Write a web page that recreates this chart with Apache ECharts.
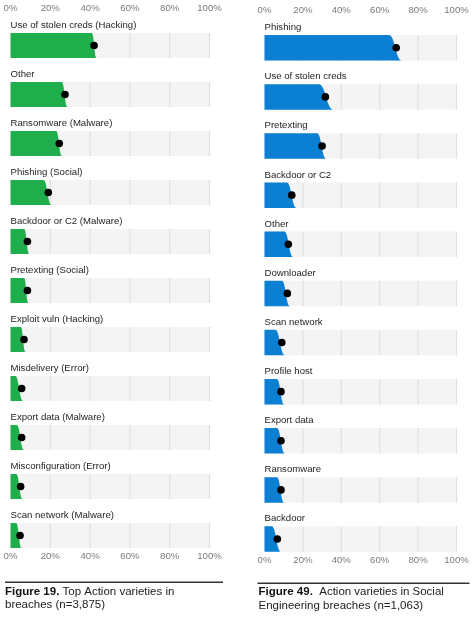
<!DOCTYPE html>
<html>
<head>
<meta charset="utf-8">
<script src="https://cdn.jsdelivr.net/npm/echarts@6/dist/echarts.min.js"></script>
<style>
  html, body { margin: 0; padding: 0; background: #fff; }
  #chart { width: 474px; height: 621px; }
</style>
</head>
<body>
<div id="chart"></div>
<script>
var leftCategories = ['Use of stolen creds (Hacking)', 'Other', 'Ransomware (Malware)', 'Phishing (Social)',
  'Backdoor or C2 (Malware)', 'Pretexting (Social)', 'Exploit vuln (Hacking)', 'Misdelivery (Error)',
  'Export data (Malware)', 'Misconfiguration (Error)', 'Scan network (Malware)'];
var leftValues = [42, 27.4, 24.5, 19, 8.5, 8.5, 6.8, 5.6, 5.6, 5.1, 4.8];
var leftLow = [40.8, 25.7, 22.9, 16.5, 6.8, 6.8, 5.1, 2.3, 3.1, 2.8, 2.8];
var leftHigh = [43.3, 28.7, 25.9, 20.7, 9.5, 9.0, 7.6, 6.4, 6.8, 6.1, 5.6];

var rightCategories = ['Phishing', 'Use of stolen creds', 'Pretexting', 'Backdoor or C2', 'Other',
  'Downloader', 'Scan network', 'Profile host', 'Export data', 'Ransomware', 'Backdoor'];
var rightValues = [68.6, 31.7, 30, 14.2, 12.4, 11.9, 9, 8.6, 8.6, 8.6, 6.7];
var rightLow = [64.7, 28.2, 27.3, 11.5, 10.3, 9, 5.5, 6.4, 6.4, 6.4, 3.7];
var rightHigh = [71.6, 36, 32.2, 16.8, 15, 13.3, 10.7, 10.3, 10.7, 10.3, 8.6];

var tickValues = [0, 20, 40, 60, 80, 100];
var tickLabels = ['0%', '20%', '40%', '60%', '80%', '100%'];

var FONT = '"Liberation Sans", Arial, sans-serif';

function toData(values, low, high) {
  return values.map(function (v, i) { return [v, low[i], high[i], i]; });
}

// gray band + grid lines + slab + dot + label for one row
function makeRender(categories, color, barH) {
  return function (params, api) {
    var cat = api.value(3);
    var p0 = api.coord([0, cat]);
    var p100 = api.coord([100, cat]);
    var cy = p0[1];
    var top = cy - barH / 2, bot = cy + barH / 2;
    var children = [{
      type: 'rect',
      shape: { x: p0[0], y: top, width: p100[0] - p0[0], height: barH },
      style: { fill: '#f4f4f4' }
    }];
    tickValues.slice(1).forEach(function (t) {
      var px = api.coord([t, cat])[0];
      children.push({
        type: 'line',
        shape: { x1: px, y1: top, x2: px, y2: bot },
        style: { stroke: '#e0e0e0', lineWidth: 1.2 }
      });
    });
    var xl = api.coord([api.value(1), cat])[0];
    var xh = api.coord([api.value(2), cat])[0];
    var d = xh - xl;
    var path = 'M' + p0[0] + ' ' + top + 'L' + xl + ' ' + top +
      'C' + (xl + 0.5 * d) + ' ' + top + ' ' + (xl + 0.5 * d) + ' ' + bot + ' ' + xh + ' ' + bot +
      'L' + p0[0] + ' ' + bot + 'Z';
    children.push({ type: 'path', shape: { pathData: path }, style: { fill: color } });
    var pv = api.coord([api.value(0), cat]);
    children.push({ type: 'circle', shape: { cx: pv[0], cy: cy, r: 3.8 }, style: { fill: '#000' } });
    children.push({
      type: 'text',
      style: {
        text: categories[cat], x: p0[0], y: top - 2.5,
        align: 'left', verticalAlign: 'bottom',
        fill: '#1e1e1e', fontSize: 9.6, fontFamily: FONT
      }
    });
    return { type: 'group', children: children };
  };
}

function valueAxis(gridIndex, position, margin) {
  return {
    type: 'value', gridIndex: gridIndex, position: position,
    min: 0, max: 100, interval: 20,
    axisLine: { show: false }, axisTick: { show: false }, splitLine: { show: false },
    axisLabel: {
      margin: margin, color: '#7a7a7a', fontSize: 9.6, fontFamily: FONT,
      formatter: function (v) { return tickLabels[tickValues.indexOf(v)]; }
    }
  };
}

function catAxis(gridIndex, cats) {
  return {
    type: 'category', gridIndex: gridIndex, data: cats, inverse: true,
    boundaryGap: false, show: false
  };
}

var myChart = echarts.init(document.getElementById('chart'));

var option = {
  animation: false,
  grid: [
    { left: 10.5, right: 264.5, top: 45.5, bottom: 85.5, outerBoundsMode: 'none' },
    { left: 264.5, right: 17.5, top: 47.8, bottom: 82, outerBoundsMode: 'none' }
  ],
  xAxis: [
    valueAxis(0, 'top', 32),
    valueAxis(0, 'bottom', 15.5),
    valueAxis(1, 'top', 32.5),
    valueAxis(1, 'bottom', 16.7)
  ],
  yAxis: [catAxis(0, leftCategories), catAxis(1, rightCategories)],
  series: [
    {
      type: 'custom', xAxisIndex: 0, yAxisIndex: 0,
      renderItem: makeRender(leftCategories, '#1fae4b', 25),
      encode: { x: 0, y: 3 },
      data: toData(leftValues, leftLow, leftHigh)
    },
    {
      type: 'custom', xAxisIndex: 2, yAxisIndex: 1,
      renderItem: makeRender(rightCategories, '#0b7fd1', 25.5),
      encode: { x: 0, y: 3 },
      data: toData(rightValues, rightLow, rightHigh)
    }
  ],
  graphic: [
    { type: 'rect', shape: { x: 5, y: 581.5, width: 218, height: 1.6 }, style: { fill: '#333' } },
    { type: 'rect', shape: { x: 257.5, y: 582.5, width: 212, height: 1.6 }, style: { fill: '#333' } },
    {
      type: 'text', x: 5, y: 585,
      style: {
        text: '{b|Figure 19.} Top Action varieties in\nbreaches (n=3,875)',
        fill: '#222', fontSize: 11.5, fontFamily: FONT, lineHeight: 13.3,
        rich: { b: { fontWeight: 'bold', fontSize: 11.5, fontFamily: FONT, fill: '#111' } }
      }
    },
    {
      type: 'text', x: 258.5, y: 585.5,
      style: {
        text: '{b|Figure 49.}  Action varieties in Social\nEngineering breaches (n=1,063)',
        fill: '#222', fontSize: 11.5, fontFamily: FONT, lineHeight: 13.3,
        rich: { b: { fontWeight: 'bold', fontSize: 11.5, fontFamily: FONT, fill: '#111' } }
      }
    }
  ]
};

myChart.setOption(option);
window.addEventListener('resize', function () {
  myChart.resize();
});
</script>
</body>
</html>
